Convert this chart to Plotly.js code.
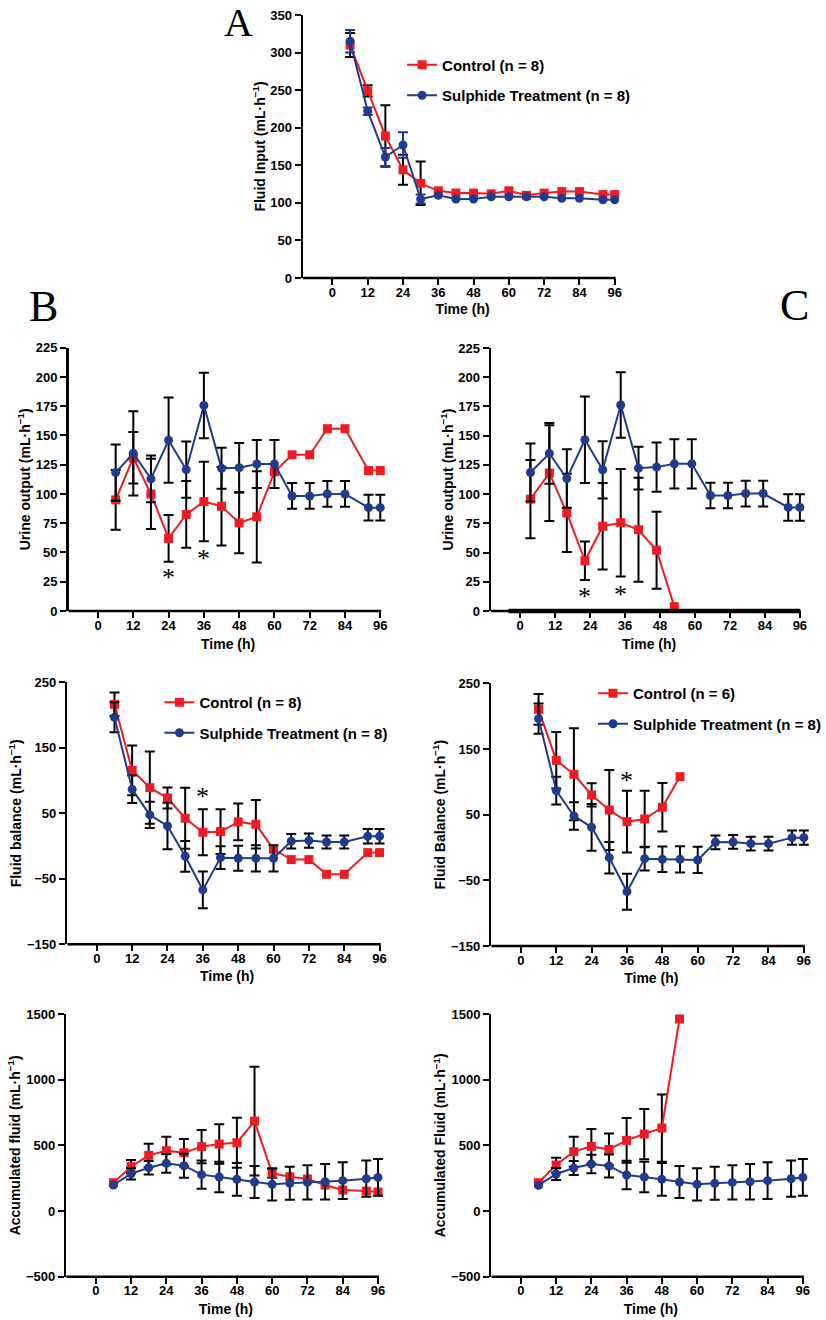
<!DOCTYPE html>
<html>
<head>
<meta charset="utf-8">
<script src="https://cdn.plot.ly/plotly-3.0.1.min.js"></script>
<style>html,body{margin:0;padding:0;background:#fff;}#chart{width:826px;height:1320px;}</style>
</head>
<body>
<div id="chart"></div>
<script>
// ---------------- DATA ----------------
const times = [6,12,18,24,30,36,42,48,54,60,66,72,78,84,92,96];
const timesUrineC = [3.5,10,16,22.2,28.3,34.5,40.6,46.8,52.9,58.9,65.3,71.3,77.4,83.4,92,96];
const timesCtrlC = [6,12,18,24,30,36,42,48,54];

// A: Fluid input
const inputCtrl    = [310,249,189,144,126,116,113,113,112,116,110,113,115,115,111,111];
const inputCtrlErr = [16,7.5,41,20,29,NaN,NaN,NaN,NaN,NaN,NaN,NaN,NaN,NaN,NaN,NaN];
const inputSulph    = [315,222,161,177,105,110,105,105,108,108,108,108,106,106,104,104];
const inputSulphErr = [15,5,12,17,6,NaN,NaN,NaN,NaN,NaN,NaN,NaN,NaN,NaN,NaN,NaN];

// B: Urine output
const urineCtrlB    = [95,131,100,62,82.5,93.5,89.5,75.3,80.5,119,133.5,133.5,155.8,155.8,120,120];
const urineCtrlBErr = [25.5,22,30,20,28.5,34,33.5,26,39,NaN,NaN,NaN,NaN,NaN,NaN,NaN];
const urineSulphB    = [118.3,134.8,112.9,146,120.8,175.7,121.9,122.5,125.6,125.6,98.3,98.3,100,100,88.3,88.3];
const urineSulphBErr = [24,36,20,36.5,24,28,17.5,21,20.5,20.5,11,11,11,11,11,11];

// C: Urine output
const urineCtrlC    = [95.7,118,84,43,72.5,75.5,69.5,52,3.7];
const urineCtrlCErr = [33.5,41,33.5,16.5,37,46,44.5,33,NaN];
const urineSulphC    = [118.5,134.8,113.4,146.5,120.8,176.2,122.2,123.1,125.9,125.9,98.8,98.8,100.5,100.5,88.6,88.6];
const urineSulphCErr = [24.8,26,25,37,24.5,28,18.3,21,21,21,11,11,11,11,11.3,11.3];

// B: Fluid balance
const balCtrlB    = [216.4,115.6,89.2,73.4,42.4,21,22,36.8,33.2,-5,-20.7,-20.7,-43.1,-43.1,-10,-10];
const balCtrlBErr = [18,38,55,16,46.5,35,34,28,37,NaN,NaN,NaN,NaN,NaN,NaN,NaN];
const balSulphB    = [196.6,86.6,47.5,30.7,-15.6,-67,-17.7,-18.7,-18.7,-18.7,7.3,8.3,6.2,6.2,14.9,14.9];
const balSulphBErr = [23,21,20,35.5,23.5,28,17.5,19,20,20,11,11,10,10,11,11];

// C: Fluid balance
const balCtrlC    = [210.4,132.7,111.4,80,57.1,39.3,43.4,61.2,107.9];
const balCtrlCErr = [23.4,43,70,17.7,61,47,43,37,NaN];
const balSulphC    = [196.2,86.6,48,30.7,-15.5,-67.3,-17,-18,-18,-19,7.9,8.4,5.8,5.8,15,15];
const balSulphCErr = [23,21,21,35.5,24,27.5,18,19.5,20,20,10.5,10.5,10.4,10.4,11,11];

// B: Accumulated fluid
const accCtrlB    = [215.7,337.6,424,459.4,444,490,510,520,685,287,261,244,198,160,152,145];
const accCtrlBErr = [NaN,50,89,107,104,127,150,191,414,33,NaN,NaN,NaN,NaN,NaN,NaN];
const accSulphB    = [198,284,330,363,345,277,259,241,221,203,211,218,223,231,246,256];
const accSulphBErr = [NaN,44,51,71,91,108,117,124,122,123,126,131,135,140,138,140];

// C: Accumulated fluid
const accCtrlC    = [215.7,350,452,492,469,538,586,632,1462];
const accCtrlCErr = [NaN,56,114,132,122,170,191,256,NaN];
const accSulphC    = [195,282,327,358,343,274,259,241,221,203,211,218,223,231,246,256];
const accSulphCErr = [NaN,46,53,71,87,109,117,124,122,123,126,131,135,140,138,140];

const xTickVals = [0,12,24,36,48,60,72,84,96];
const legendCtrl8 = 'Control (n = 8)';
const legendCtrl6 = 'Control (n = 6)';
const legendSulph = 'Sulphide Treatment (n = 8)';

// significance markers [time, y]
const starsUrineB = [[24,32.6],[36,49.5]];
const starsUrineC = [[22.2,16.6],[34.5,18]];
const starsBalB = [[36,83]];
const starsBalC = [[36,109.6]];

// ---------------- STYLE ----------------
const W = 826, H = 1320;
const RED = '#ee1c22', BLUE = '#1f3b8f';
const FONT = 'Liberation Sans, Arial, sans-serif';
const px = v => v / W;
const py = v => 1 - v / H;
const XMIN = -10, XEND = 96, XMAX = 98.5;

function ctrlTrace(x, y, err, xa, ya, opts) {
  return Object.assign({
    type: 'scatter', mode: 'lines+markers', x: x, y: y, xaxis: xa, yaxis: ya,
    line: {color: RED, width: 2},
    marker: {symbol: 'square', size: 9, color: RED},
    error_y: {type: 'data', array: err, visible: true, color: 'black', thickness: 2, width: 5},
    showlegend: false, cliponaxis: false
  }, opts || {});
}
function sulphTrace(x, y, err, xa, ya, opts, errColor) {
  return Object.assign({
    type: 'scatter', mode: 'lines+markers', x: x, y: y, xaxis: xa, yaxis: ya,
    line: {color: BLUE, width: 2},
    marker: {symbol: 'circle', size: 9, color: BLUE},
    error_y: {type: 'data', array: err, visible: true, color: errColor || 'black', thickness: 2, width: 5},
    showlegend: false, cliponaxis: false
  }, opts || {});
}

const traces = [
  ctrlTrace(times, inputCtrl, inputCtrlErr, 'x', 'y', {name: legendCtrl8, showlegend: true, legend: 'legend', legendgroup: 'a1'}),
  sulphTrace(times, inputSulph, inputSulphErr, 'x', 'y', {name: legendSulph, showlegend: true, legend: 'legend', legendgroup: 'a2'}, BLUE),

  ctrlTrace(times, urineCtrlB, urineCtrlBErr, 'x2', 'y2'),
  sulphTrace(times, urineSulphB, urineSulphBErr, 'x2', 'y2'),

  ctrlTrace(timesUrineC.slice(0, urineCtrlC.length), urineCtrlC, urineCtrlCErr, 'x3', 'y3'),
  sulphTrace(timesUrineC, urineSulphC, urineSulphCErr, 'x3', 'y3'),

  ctrlTrace(times, balCtrlB, balCtrlBErr, 'x4', 'y4', {name: legendCtrl8, showlegend: true, legend: 'legend2', legendgroup: 'b1'}),
  sulphTrace(times, balSulphB, balSulphBErr, 'x4', 'y4', {name: legendSulph, showlegend: true, legend: 'legend2', legendgroup: 'b2'}),

  ctrlTrace(timesCtrlC, balCtrlC, balCtrlCErr, 'x5', 'y5', {name: legendCtrl6, showlegend: true, legend: 'legend3', legendgroup: 'c1'}),
  sulphTrace(times, balSulphC, balSulphCErr, 'x5', 'y5', {name: legendSulph, showlegend: true, legend: 'legend3', legendgroup: 'c2'}),

  ctrlTrace(times, accCtrlB, accCtrlBErr, 'x6', 'y6'),
  sulphTrace(times, accSulphB, accSulphBErr, 'x6', 'y6'),

  ctrlTrace(timesCtrlC, accCtrlC, accCtrlCErr, 'x7', 'y7'),
  sulphTrace(times, accSulphC, accSulphCErr, 'x7', 'y7')
];

const tickFont = {family: FONT, size: 13, color: 'black', weight: 'bold'};
const titleFont = {family: FONT, size: 14, color: 'black', weight: 'bold'};

// panel geometry in pixels: left edge (x=-10), position of x=96, top, bottom
const panels = {
  a:  {l: 306,   r: 620.7, t: 15,    b: 278},
  b1: {l: 69.3,  r: 384,   t: 347.7, b: 611},
  c1: {l: 495.9, r: 807.7, t: 348,   b: 611},
  b2: {l: 68,    r: 383.3, t: 682.3, b: 944.3},
  c2: {l: 496.2, r: 811.7, t: 683.3, b: 946},
  b3: {l: 67,    r: 381.7, t: 1014,  b: 1276.7},
  c3: {l: 496.3, r: 810.7, t: 1014,  b: 1276.7}
};

function xAxis(p, anchor, standoff) {
  const pph = (p.r - p.l) / (XEND - XMIN);
  const right = p.r + (XMAX - XEND) * pph;
  return {
    domain: [px(p.l), px(right)], anchor: anchor, range: [XMIN, XMAX],
    tickmode: 'array', tickvals: xTickVals, ticktext: xTickVals.map(String),
    ticks: 'outside', ticklen: 6, tickwidth: 2, tickcolor: 'black',
    showline: false, showgrid: false, zeroline: false, fixedrange: true,
    tickfont: tickFont, ticklabelstandoff: -4,
    title: {text: 'Time (h)', font: titleFont, standoff: standoff}
  };
}
function yAxis(p, anchor, range, tick0, dtick, title) {
  return {
    domain: [py(p.b), py(p.t)], anchor: anchor, range: range,
    tickmode: 'linear', tick0: tick0, dtick: dtick,
    ticks: 'outside', ticklen: 6, tickwidth: 2, tickcolor: 'black',
    showline: true, linewidth: 2.5, linecolor: 'black',
    showgrid: false, zeroline: false, fixedrange: true,
    tickfont: tickFont,
    title: {text: title, font: titleFont, standoff: 2}
  };
}
// x-axis baseline ending at the 96 h tick
function baseLine(p, width) {
  return {type: 'line', xref: 'paper', yref: 'paper',
    x0: px(p.l), x1: px(p.r + 1), y0: py(p.b), y1: py(p.b),
    line: {color: 'black', width: width || 2.5}, layer: 'above'};
}

const unit = ' (mL·h<sup>−1</sup>)';

function legendBox(xLeft, yTop) {
  return {
    x: px(xLeft), y: py(yTop), xanchor: 'left', yanchor: 'top',
    bgcolor: 'rgba(0,0,0,0)', borderwidth: 0,
    font: {family: FONT, size: 15, color: 'black', weight: 'bold'},
    traceorder: 'grouped', tracegroupgap: 8, itemwidth: 30
  };
}

function stars(list, xa, ya) {
  return list.map(s => ({
    x: s[0], y: s[1], xref: xa, yref: ya, text: '*', showarrow: false,
    font: {family: 'Liberation Serif, serif', size: 26, color: 'black'},
    xanchor: 'center', yanchor: 'middle', yshift: -5
  }));
}
function letter(t, x, y, size) {
  return {x: px(x), y: py(y), xref: 'paper', yref: 'paper', text: t, showarrow: false,
    font: {family: 'Liberation Serif, Times New Roman, serif', size: size || 44, color: 'black'},
    xanchor: 'center', yanchor: 'middle'};
}

const thickZero = panels.c1;
const layout = {
  width: W, height: H,
  margin: {l: 0, r: 0, t: 0, b: 0},
  paper_bgcolor: 'white', plot_bgcolor: 'white',
  font: {family: FONT, color: 'black'},
  xaxis:  xAxis(panels.a, 'y', 5),
  yaxis:  yAxis(panels.a, 'x', [0, 350], 0, 50, 'Fluid Input' + unit),
  xaxis2: xAxis(panels.b1, 'y2', 7),
  yaxis2: yAxis(panels.b1, 'x2', [0, 225], 0, 25, 'Urine output' + unit),
  xaxis3: xAxis(panels.c1, 'y3', 7),
  yaxis3: yAxis(panels.c1, 'x3', [0, 225], 0, 25, 'Urine output' + unit),
  xaxis4: xAxis(panels.b2, 'y4', 6),
  yaxis4: yAxis(panels.b2, 'x4', [-150, 250], -150, 100, 'Fluid balance' + unit),
  xaxis5: xAxis(panels.c2, 'y5', 6),
  yaxis5: yAxis(panels.c2, 'x5', [-150, 250], -150, 100, 'Fluid Balance' + unit),
  xaxis6: xAxis(panels.b3, 'y6', 6),
  yaxis6: yAxis(panels.b3, 'x6', [-500, 1500], -500, 500, 'Accumulated fluid' + unit),
  xaxis7: xAxis(panels.c3, 'y7', 6),
  yaxis7: yAxis(panels.c3, 'x7', [-500, 1500], -500, 500, 'Accumulated Fluid' + unit),
  legend:  legendBox(406, 48.5),
  legend2: legendBox(161, 686),
  legend3: legendBox(599, 677),
  shapes: [
    baseLine(panels.a), baseLine(panels.b1), baseLine(panels.c1), baseLine(panels.b2),
    baseLine(panels.c2), baseLine(panels.b3), baseLine(panels.c3),
    {type: 'line', xref: 'x3', yref: 'paper', x0: -4, x1: 96,
     y0: py(thickZero.b), y1: py(thickZero.b),
     line: {color: 'black', width: 4.5}, layer: 'above'}
  ],
  annotations: [
    letter('A', 241, 22, 40), letter('B', 44, 307), letter('C', 802, 305)
  ].concat(stars(starsUrineB, 'x2', 'y2'), stars(starsUrineC, 'x3', 'y3'),
           stars(starsBalB, 'x4', 'y4'), stars(starsBalC, 'x5', 'y5')),
  showlegend: true
};

Plotly.newPlot('chart', traces, layout, {displayModeBar: false, staticPlot: true});
</script>
</body>
</html>
